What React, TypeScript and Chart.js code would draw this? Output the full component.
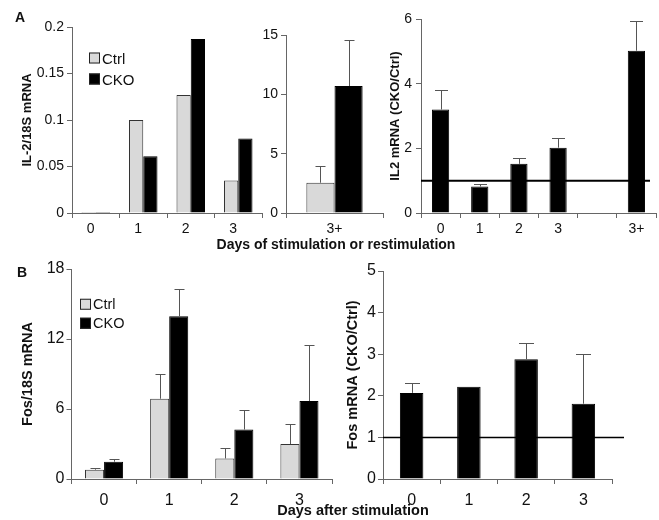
import React, { useEffect, useRef } from "react";
import { Chart, registerables } from "chart.js";

Chart.register(...registerables);

// ---------- data ----------
const DAYS = ["0", "1", "2", "3"];
const SERIES_NAMES = ["Ctrl", "CKO"];

const IL2_CTRL = [0.001, 0.1, 0.127, 0.035];
const IL2_CKO = [0.001, 0.061, 0.187, 0.08];
const IL2_Y_TICKS = [0, 0.05, 0.1, 0.15, 0.2];

const RESTIM_LABELS = ["3+"];
const IL2_RESTIM_CTRL = [2.55];
const IL2_RESTIM_CTRL_ERR = [1.45];
const IL2_RESTIM_CKO = [10.7];
const IL2_RESTIM_CKO_ERR = [3.9];
const IL2_RESTIM_Y_TICKS = [0, 5, 10, 15];

const IL2_RATIO_LABELS = ["0", "1", "2", "3", "", "3+"];
const IL2_RATIO = [3.2, 0.82, 1.52, 2.02, null, 5.02];
const IL2_RATIO_ERR = [0.59, 0.07, 0.18, 0.29, null, 0.91];
const IL2_RATIO_Y_TICKS = [0, 2, 4, 6];

const FOS_CTRL = [0.8, 6.88, 1.76, 2.99];
const FOS_CTRL_ERR = [0.14, 2.1, 0.91, 1.7];
const FOS_CKO = [1.48, 13.96, 4.24, 6.68];
const FOS_CKO_ERR = [0.23, 2.33, 1.65, 4.78];
const FOS_Y_TICKS = [0, 6, 12, 18];

const FOS_RATIO = [2.07, 2.22, 2.88, 1.81];
const FOS_RATIO_ERR = [0.23, 0, 0.39, 1.19];
const FOS_RATIO_Y_TICKS = [0, 1, 2, 3, 4, 5];

const REF_VALUE = 1;

// ---------- style ----------
const PAGE_W = 659;
const PAGE_H = 520;
const AXIS = "#666";
const TEXT = "#111";
const FONT = "'Liberation Sans', Arial, Helvetica, sans-serif";
const CTRL_FILL = "#d9d9d9";
const CTRL_BORDER = "#333";
const CKO_FILL = "#000";
const ERR_COLOR = "#555";

Chart.defaults.font.family = FONT;
Chart.defaults.color = TEXT;

const errorBarPlugin = {
  id: "errorBars",
  afterDatasetsDraw(chart: any, _a: any, o: any) {
    const ctx = chart.ctx;
    const ys = chart.scales.y;
    chart.data.datasets.forEach((ds: any, i: number) => {
      const errs = ds.errors;
      if (!errs) return;
      const meta = chart.getDatasetMeta(i);
      meta.data.forEach((el: any, j: number) => {
        const v = ds.data[j];
        const e = errs[j];
        if (v == null || !e) return;
        const x = Math.round(el.x) + 0.5;
        const y0 = ys.getPixelForValue(v);
        const y1 = Math.round(ys.getPixelForValue(v + e)) + 0.5;
        ctx.save();
        ctx.strokeStyle = (o && o.color) || ERR_COLOR;
        ctx.lineWidth = 1;
        ctx.beginPath();
        ctx.moveTo(x, y0);
        ctx.lineTo(x, y1);
        const c = ((o && o.cap) || 8) / 2;
        ctx.moveTo(x - c, y1);
        ctx.lineTo(x + c, y1);
        ctx.stroke();
        ctx.restore();
      });
    });
  },
};

const refLinePlugin = {
  id: "refLine",
  afterDatasetsDraw(chart: any, _a: any, o: any) {
    if (!o || o.value == null) return;
    const ctx = chart.ctx;
    const y = chart.scales.y.getPixelForValue(o.value);
    const { left, right } = chart.chartArea;
    ctx.save();
    ctx.strokeStyle = "#000";
    ctx.lineWidth = o.width || 1;
    ctx.beginPath();
    ctx.moveTo(left, y);
    ctx.lineTo(right + (o.extend || 0), y);
    ctx.stroke();
    ctx.restore();
  },
};

type Spec = {
  area: { l: number; r: number; t: number; b: number };
  labels: string[];
  datasets: any[];
  yTicks: number[];
  yTitle?: string;
  yTitleX?: number;
  yTitleSize?: number;
  tickSize: number;
  xTickPad: number;
  yTickPad: number;
  xLabelOffset?: number;
  categoryPercentage: number;
  barPercentage: number;
  cap: number;
  refLine?: { value: number; extend: number; width: number };
};

function ChartLayer({ spec }: { spec: Spec }) {
  const ref = useRef<HTMLCanvasElement | null>(null);
  useEffect(() => {
    if (!ref.current) return;
    const s = spec;
    const titleSize = s.yTitleSize || 13;
    const lh = titleSize * 1.2;
    const padLeft = s.yTitle ? (s.yTitleX as number) - lh / 2 : s.area.l - 40;
    const yWidth = s.area.l - padLeft;
    const xHeight = 28;
    const yMin = s.yTicks[0];
    const yMax = s.yTicks[s.yTicks.length - 1];
    const chart = new Chart(ref.current, {
      type: "bar",
      data: { labels: s.labels, datasets: s.datasets },
      plugins: [errorBarPlugin, refLinePlugin],
      options: {
        responsive: false,
        animation: false,
        events: [],
        layout: {
          padding: {
            left: padLeft,
            right: PAGE_W - s.area.r,
            top: s.area.t,
            bottom: PAGE_H - s.area.b - xHeight,
          },
        },
        datasets: {
          bar: {
            categoryPercentage: s.categoryPercentage,
            barPercentage: s.barPercentage,
          },
        },
        plugins: {
          legend: { display: false },
          tooltip: { enabled: false },
          errorBars: { cap: s.cap, color: ERR_COLOR },
          refLine: s.refLine || {},
        } as any,
        scales: {
          x: {
            type: "category",
            offset: true,
            grid: {
              display: true,
              offset: true,
              drawOnChartArea: false,
              drawTicks: true,
              tickLength: 5,
              color: AXIS,
            },
            border: { display: true, color: AXIS, width: 1 },
            ticks: {
              font: { size: s.tickSize },
              color: TEXT,
              padding: s.xTickPad,
              labelOffset: s.xLabelOffset || 0,
              maxRotation: 0,
              autoSkip: false,
            },
            afterFit: (sc: any) => {
              sc.height = xHeight;
            },
          },
          y: {
            min: yMin,
            max: yMax,
            grid: {
              display: true,
              drawOnChartArea: false,
              drawTicks: true,
              tickLength: 5,
              color: AXIS,
            },
            border: { display: true, color: AXIS, width: 1 },
            ticks: {
              font: { size: s.tickSize },
              color: TEXT,
              padding: s.yTickPad,
              callback: (v: any) => String(v),
            },
            afterBuildTicks: (sc: any) => {
              sc.ticks = s.yTicks.map((v) => ({ value: v }));
            },
            title: {
              display: !!s.yTitle,
              text: s.yTitle || "",
              font: { size: titleSize, weight: "bold" },
              color: TEXT,
              padding: 0,
            },
            afterFit: (sc: any) => {
              sc.width = yWidth;
            },
          },
        },
      } as any,
    });
    return () => chart.destroy();
  }, [spec]);
  return (
    <canvas
      ref={ref}
      width={PAGE_W}
      height={PAGE_H}
      style={{ position: "absolute", left: 0, top: 0, width: PAGE_W, height: PAGE_H }}
    />
  );
}

const ctrlDs = (data: any[], errors?: any[]) => ({
  label: SERIES_NAMES[0],
  data,
  errors,
  backgroundColor: CTRL_FILL,
  borderColor: CTRL_BORDER,
  borderWidth: 1,
});
const ckoDs = (data: any[], errors?: any[]) => ({
  label: SERIES_NAMES[1],
  data,
  errors,
  backgroundColor: CKO_FILL,
  borderColor: CKO_FILL,
  borderWidth: 1,
});

const SPECS: Spec[] = [
  {
    area: { l: 72, r: 262, t: 27, b: 213 },
    labels: DAYS,
    datasets: [ctrlDs(IL2_CTRL), ckoDs(IL2_CKO)],
    yTicks: IL2_Y_TICKS,
    yTitle: "IL-2/18S mRNA",
    yTitleX: 27,
    yTitleSize: 13,
    tickSize: 14,
    xTickPad: 3,
    yTickPad: 3,
    xLabelOffset: -5,
    categoryPercentage: 0.6,
    barPercentage: 1,
    cap: 8,
  },
  {
    area: { l: 286, r: 383, t: 35, b: 213 },
    labels: RESTIM_LABELS,
    datasets: [
      ctrlDs(IL2_RESTIM_CTRL, IL2_RESTIM_CTRL_ERR),
      ckoDs(IL2_RESTIM_CKO, IL2_RESTIM_CKO_ERR),
    ],
    yTicks: IL2_RESTIM_Y_TICKS,
    tickSize: 14,
    xTickPad: 3,
    yTickPad: 3,
    categoryPercentage: 0.58,
    barPercentage: 1,
    cap: 10,
  },
  {
    area: { l: 421, r: 656, t: 19, b: 213 },
    labels: IL2_RATIO_LABELS,
    datasets: [ckoDs(IL2_RATIO, IL2_RATIO_ERR)],
    yTicks: IL2_RATIO_Y_TICKS,
    yTitle: "IL2 mRNA (CKO/Ctrl)",
    yTitleX: 395,
    yTitleSize: 13,
    tickSize: 14,
    xTickPad: 3,
    yTickPad: 4,
    categoryPercentage: 1,
    barPercentage: 0.44,
    cap: 13,
    refLine: { value: REF_VALUE, extend: -6, width: 2 },
  },
  {
    area: { l: 71.5, r: 332, t: 269, b: 479 },
    labels: DAYS,
    datasets: [ctrlDs(FOS_CTRL, FOS_CTRL_ERR), ckoDs(FOS_CKO, FOS_CKO_ERR)],
    yTicks: FOS_Y_TICKS,
    yTitle: "Fos/18S mRNA",
    yTitleX: 28,
    yTitleSize: 14.5,
    tickSize: 16,
    xTickPad: 7,
    yTickPad: 2,
    categoryPercentage: 0.585,
    barPercentage: 1,
    cap: 10,
  },
  {
    area: { l: 383, r: 612, t: 271, b: 479 },
    labels: DAYS,
    datasets: [ckoDs(FOS_RATIO, FOS_RATIO_ERR)],
    yTicks: FOS_RATIO_Y_TICKS,
    yTitle: "Fos mRNA (CKO/Ctrl)",
    yTitleX: 353,
    yTitleSize: 14.5,
    tickSize: 16,
    xTickPad: 7,
    yTickPad: 2,
    categoryPercentage: 1,
    barPercentage: 0.41,
    cap: 15,
    refLine: { value: REF_VALUE, extend: 12, width: 1.5 },
  },
];

function Text({ x, y, size, bold, children, align }: any) {
  return (
    <div
      style={{
        position: "absolute",
        left: x,
        top: y,
        transform: align === "left" ? "translate(0,-50%)" : "translate(-50%,-50%)",
        fontFamily: FONT,
        fontSize: size,
        fontWeight: bold ? "bold" : "normal",
        color: TEXT,
        whiteSpace: "nowrap",
        lineHeight: 1,
      }}
    >
      {children}
    </div>
  );
}

function Legend({ x, y, gap, box, size }: any) {
  const fills = [CTRL_FILL, CKO_FILL];
  return (
    <>
      {SERIES_NAMES.map((name, i) => (
        <div
          key={name}
          style={{
            position: "absolute",
            left: x,
            top: y + i * gap,
            transform: "translate(0,-50%)",
            display: "flex",
            alignItems: "center",
            fontFamily: FONT,
            fontSize: size,
            color: TEXT,
            lineHeight: 1,
          }}
        >
          <span
            style={{
              display: "inline-block",
              width: box,
              height: box,
              boxSizing: "border-box",
              background: fills[i],
              border: "1px solid #222",
              marginRight: 2,
            }}
          />
          <span>{name}</span>
        </div>
      ))}
    </>
  );
}

export default function App() {
  return (
    <div
      style={{
        position: "absolute",
        left: 0,
        top: 0,
        width: PAGE_W,
        height: PAGE_H,
        background: "#fff",
        overflow: "hidden",
      }}
    >
      {SPECS.map((s, i) => (
        <ChartLayer key={i} spec={s} />
      ))}
      <Text x={20} y={17} size={14} bold>
        A
      </Text>
      <Text x={22} y={272} size={14} bold>
        B
      </Text>
      <Text x={336} y={244} size={14} bold>
        Days of stimulation or restimulation
      </Text>
      <Text x={353} y={510} size={14.5} bold>
        Days after stimulation
      </Text>
      <Legend x={89} y={58} gap={21} box={11} size={15} />
      <Legend x={80} y={304} gap={19} box={11} size={14.5} />
    </div>
  );
}
